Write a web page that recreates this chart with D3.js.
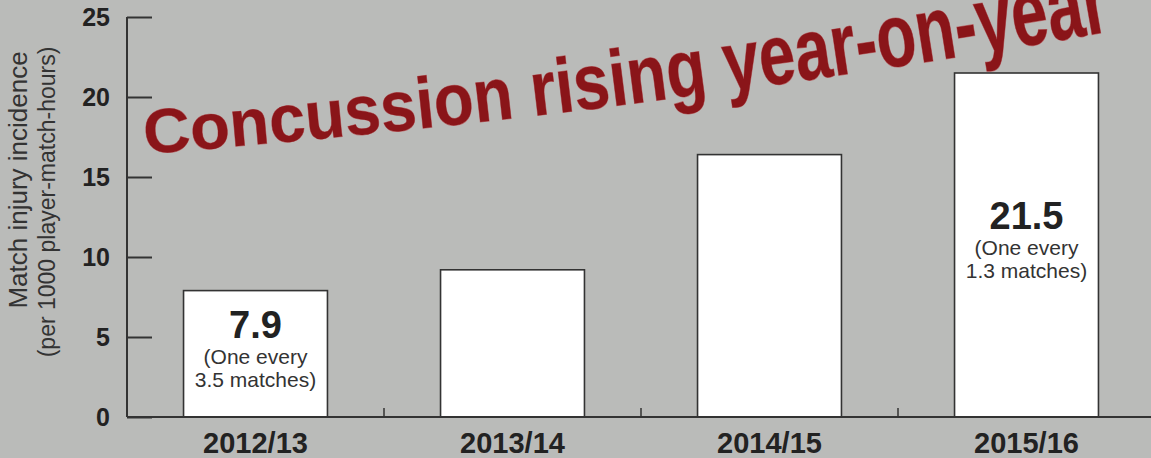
<!DOCTYPE html>
<html>
<head>
<meta charset="utf-8">
<script src="https://cdn.jsdelivr.net/npm/d3@7"></script>
<style>
  body { margin: 0; background: #babbb9; }
  svg { display: block; }
</style>
</head>
<body>
<div id="chart"></div>
<script>
// data
let seasons = ['2012/13', '2013/14', '2014/15', '2015/16']
let incidence = [7.9, 9.2, 16.4, 21.5]
let valueLabels = ['7.9', '', '', '21.5']
let noteLine1 = ['(One every', '', '', '(One every']
let noteLine2 = ['3.5 matches)', '', '', '1.3 matches)']
let yTicks = [0, 5, 10, 15, 20, 25]
let yTitle = ['Match injury incidence', '(per 1000 player-match-hours)']
let headline = 'Concussion rising year-on-year'

let svgWidth = 1151
let svgHeight = 458
let margin = { top: 17, right: -4, bottom: 41, left: 127 }
let width = svgWidth - margin.left - margin.right
let height = svgHeight - margin.top - margin.bottom
let axisColor = '#333'
let font = '"Liberation Sans", Arial, Helvetica, sans-serif'

let svg = d3.select('#chart').append('svg')
    .attr('width', svgWidth)
    .attr('height', svgHeight)
    .style('font-family', font)

svg.append('rect')
    .attr('width', svgWidth)
    .attr('height', svgHeight)
    .attr('fill', '#babbb9')

let g = svg.append('g')
    .attr('transform', 'translate(' + margin.left + ',' + margin.top + ')')

let xScale = d3.scaleBand()
    .domain(seasons)
    .range([0, width])
    .paddingInner(0.44)
    .paddingOuter(0.22)

let yScale = d3.scaleLinear()
    .domain([0, 25])
    .range([height, 0])

// y axis: ticks point inwards
let yAxis = g.append('g').attr('class', 'y-axis')
    .call(d3.axisRight(yScale).tickValues(yTicks).tickSize(25).tickFormat(''))
yAxis.select('.domain').attr('stroke', axisColor).attr('stroke-width', 2).attr('d', 'M0,0V' + height)
yAxis.selectAll('.tick line').attr('stroke', axisColor).attr('stroke-width', 2)

g.append('g').attr('class', 'y-labels')
    .selectAll('text')
    .data(yTicks)
    .enter()
    .append('text')
    .attr('x', -17)
    .attr('y', (d) => yScale(d) + 9)
    .attr('text-anchor', 'end')
    .style('font-size', '25px')
    .style('font-weight', 'bold')
    .attr('fill', '#222')
    .text((d) => d)

// y axis title, two rotated lines
svg.append('g').attr('class', 'y-title')
    .selectAll('text')
    .data(yTitle)
    .enter()
    .append('text')
    .attr('transform', (d, i) => 'translate(' + (27 + i * 28) + ',' + (180 + i * 22) + ') rotate(-90)')
    .attr('text-anchor', 'middle')
    .style('font-size', (d, i) => i === 0 ? '26px' : '23px')
    .attr('fill', '#333')
    .text((d) => d)

// bars
g.append('g').attr('class', 'barchart')
    .selectAll('rect')
    .data(seasons)
    .enter()
    .append('rect')
    .attr('x', (d) => xScale(d))
    .attr('y', (d, i) => yScale(incidence[i]))
    .attr('width', xScale.bandwidth())
    .attr('height', (d, i) => height - yScale(incidence[i]))
    .attr('fill', '#fff')
    .attr('stroke', axisColor)
    .attr('stroke-width', 1.6)

// x axis: baseline plus small ticks between bars
let xAxis = g.append('g').attr('class', 'x-axis')
    .attr('transform', 'translate(0,' + height + ')')
xAxis.append('line')
    .attr('x1', 0).attr('x2', width + 10)
    .attr('stroke', axisColor).attr('stroke-width', 2)
xAxis.selectAll('.sep')
    .data(seasons.slice(1))
    .enter()
    .append('line')
    .attr('class', 'sep')
    .attr('x1', (d) => xScale(d) - xScale.step() * xScale.paddingInner() / 2)
    .attr('x2', (d) => xScale(d) - xScale.step() * xScale.paddingInner() / 2)
    .attr('y1', 0).attr('y2', -9)
    .attr('stroke', axisColor).attr('stroke-width', 1.5)
xAxis.selectAll('.cat')
    .data(seasons)
    .enter()
    .append('text')
    .attr('class', 'cat')
    .attr('x', (d) => xScale(d) + xScale.bandwidth() / 2)
    .attr('y', 36)
    .attr('text-anchor', 'middle')
    .style('font-size', '29px')
    .style('font-weight', 'bold')
    .attr('fill', '#222')
    .text((d) => d)

// labels inside the first and last bars
let notes = g.append('g').attr('class', 'notes')
seasons.forEach((s, i) => {
    if (!valueLabels[i]) return
    let cx = xScale(s) + xScale.bandwidth() / 2
    let mid = (yScale(incidence[i]) + height) / 2 - 5
    notes.append('text')
        .attr('x', cx).attr('y', mid - 11)
        .attr('text-anchor', 'middle')
        .style('font-size', '38px').style('font-weight', 'bold')
        .attr('fill', '#222')
        .text(valueLabels[i])
    notes.append('text')
        .attr('x', cx).attr('y', mid + 15)
        .attr('text-anchor', 'middle')
        .style('font-size', '21px')
        .attr('fill', '#333')
        .text(noteLine1[i])
    notes.append('text')
        .attr('x', cx).attr('y', mid + 38)
        .attr('text-anchor', 'middle')
        .style('font-size', '21px')
        .attr('fill', '#333')
        .text(noteLine2[i])
})

// headline, letters get steeper and taller along the line
let titleSize = 65
let measure = svg.append('text')
    .style('font-size', titleSize + 'px').style('font-weight', 'bold')
let chars = headline.split('')
let advances = chars.map((c) => {
    measure.text(c === ' ' ? '\u00a0' : c)
    return measure.node().getComputedTextLength()
})
measure.remove()
let total = d3.sum(advances)
let angleAt = d3.scaleLinear().domain([0, total]).range([4.5, 10])
let stretchAt = d3.scaleLinear().domain([0, total]).range([0.95, 1.5])

let title = svg.append('g').attr('class', 'headline')
let px = 145
let py = 154
let run = 0
chars.forEach((c, i) => {
    let a = angleAt(run + advances[i] / 2)
    let sy = stretchAt(run + advances[i] / 2)
    if (c !== ' ') {
        title.append('text')
            .attr('transform', 'translate(' + px + ',' + py + ') rotate(' + (-a) + ') scale(1,' + sy + ')')
            .style('font-size', titleSize + 'px')
            .style('font-weight', 'bold')
            .attr('fill', '#8a1519')
            .attr('stroke', '#b86a6c')
            .attr('stroke-width', 0.8)
            .style('paint-order', 'stroke')
            .text(c)
    }
    let rad = a * Math.PI / 180
    px += advances[i] * Math.cos(rad)
    py -= advances[i] * Math.sin(rad)
    run += advances[i]
})
</script>
</body>
</html>
